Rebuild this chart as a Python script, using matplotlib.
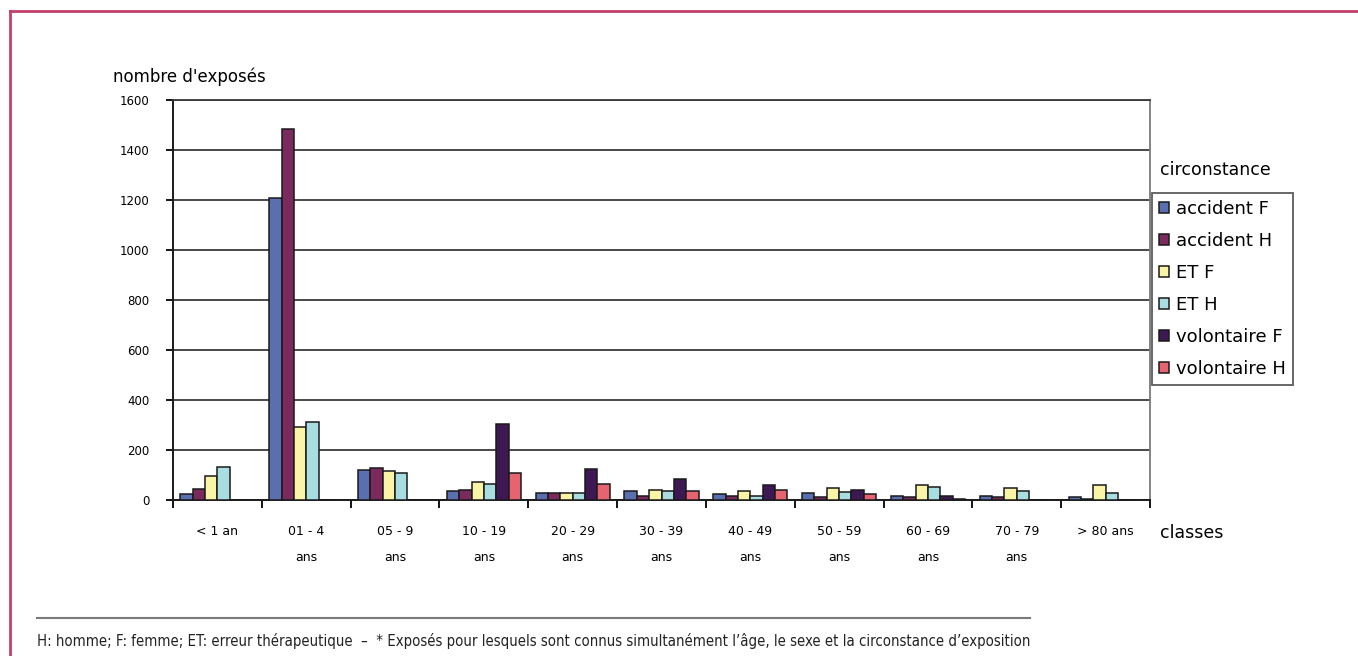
import numpy as np
import matplotlib.pyplot as plt
from matplotlib.lines import Line2D

classes = ["< 1 an", "01 - 4\nans", "05 - 9\nans", "10 - 19\nans", "20 - 29\nans",
           "30 - 39\nans", "40 - 49\nans", "50 - 59\nans", "60 - 69\nans",
           "70 - 79\nans", "> 80 ans"]

accident_f = [24, 1210, 121, 35, 28, 36, 23, 28, 15, 16, 11]
accident_h = [43, 1483, 127, 41, 28, 15, 15, 11, 11, 11, 4]
et_f = [96, 291, 115, 72, 28, 41, 35, 48, 59, 48, 59]
et_h = [133, 311, 108, 63, 28, 35, 15, 33, 52, 36, 29]
volontaire_f = [0, 0, 0, 305, 125, 85, 59, 41, 15, 0, 0]
volontaire_h = [0, 0, 0, 108, 64, 36, 41, 23, 4, 0, 0]

series = [
    ("accident F", accident_f, "#5a6fb0"),
    ("accident H", accident_h, "#7a2a5c"),
    ("ET F", et_f, "#faf5a6"),
    ("ET H", et_h, "#a8dee2"),
    ("volontaire F", volontaire_f, "#3e1852"),
    ("volontaire H", volontaire_h, "#e56470"),
]

plt.rcParams["font.family"] = "DejaVu Sans"

fig = plt.figure(figsize=(13.58, 6.56), dpi=100)
ax = fig.add_axes([173 / 1358, 1 - 500 / 656, 977 / 1358, 400 / 656])

x = np.arange(len(classes))
width = 0.139
for i, (label, values, color) in enumerate(series):
    pos = x + (i - 2.5) * width
    ax.bar(pos, values, width, color=color, edgecolor="#1a1a1a",
           linewidth=1.1, label=label, zorder=3)

ax.set_xlim(-0.5, len(classes) - 0.5)
ax.set_ylim(0, 1600)
ax.set_yticks(range(0, 1601, 200))
ax.yaxis.grid(True, color="#3a3a3a", linewidth=1.3, zorder=1)
ax.tick_params(axis="y", length=5, width=1.3, pad=12, labelsize=8.5, direction="out")

# category separators as major ticks, names as minor ticks
ax.set_xticks(np.arange(-0.5, len(classes), 1.0))
ax.set_xticklabels([])
ax.tick_params(axis="x", which="major", length=6, width=1.3, direction="out")
ax.set_xticks(x, minor=True)
ax.set_xticklabels(classes, minor=True, fontsize=9, linespacing=2.3)
ax.tick_params(axis="x", which="minor", length=0, pad=18)

for side in ("left", "bottom"):
    ax.spines[side].set_color("#1a1a1a")
    ax.spines[side].set_linewidth(1.4)
ax.spines["top"].set_color("#3a3a3a")
ax.spines["top"].set_linewidth(1.3)
ax.spines["right"].set_color("#7a7a7a")
ax.spines["right"].set_linewidth(1.3)

fig.text(113 / 1358, 1 - 77 / 656, "nombre d'exposés", fontsize=12, va="center")
fig.text(1160 / 1358, 1 - 170 / 656, "circonstance", fontsize=12.5, va="center")
fig.text(1160 / 1358, 1 - 533 / 656, "classes", fontsize=12.5, va="center")

leg = fig.legend(loc="upper left", bbox_to_anchor=(1152 / 1358, 1 - 193 / 656),
                 borderaxespad=0, fontsize=13, frameon=True, fancybox=False,
                 handlelength=0.55, handleheight=0.55, handletextpad=0.4,
                 labelspacing=0.78, borderpad=0.38)
leg.get_frame().set_edgecolor("#333333")
leg.get_frame().set_linewidth(1.3)

# footnote rule and text
fig.add_artist(Line2D([37 / 1358, 1030 / 1358], [1 - 618 / 656, 1 - 618 / 656],
                      color="#7a7a7a", linewidth=1.5))
fig.text(37 / 1358, 1 - 641 / 656,
         "H: homme; F: femme; ET: erreur thérapeutique  –  * Exposés pour lesquels "
         "sont connus simultanément l\u2019âge, le sexe et la circonstance d\u2019exposition",
         fontsize=10.7, family="DejaVu Sans", fontstretch="condensed", va="center",
         color="#222222")

# page frame
frame_color = "#c2406b"
fig.add_artist(Line2D([10 / 1358, 1.0], [1 - 11 / 656, 1 - 11 / 656],
                      color=frame_color, linewidth=2))
fig.add_artist(Line2D([10 / 1358, 10 / 1358], [0, 1 - 11 / 656],
                      color=frame_color, linewidth=2))

fig.savefig("out.png", dpi=100)
